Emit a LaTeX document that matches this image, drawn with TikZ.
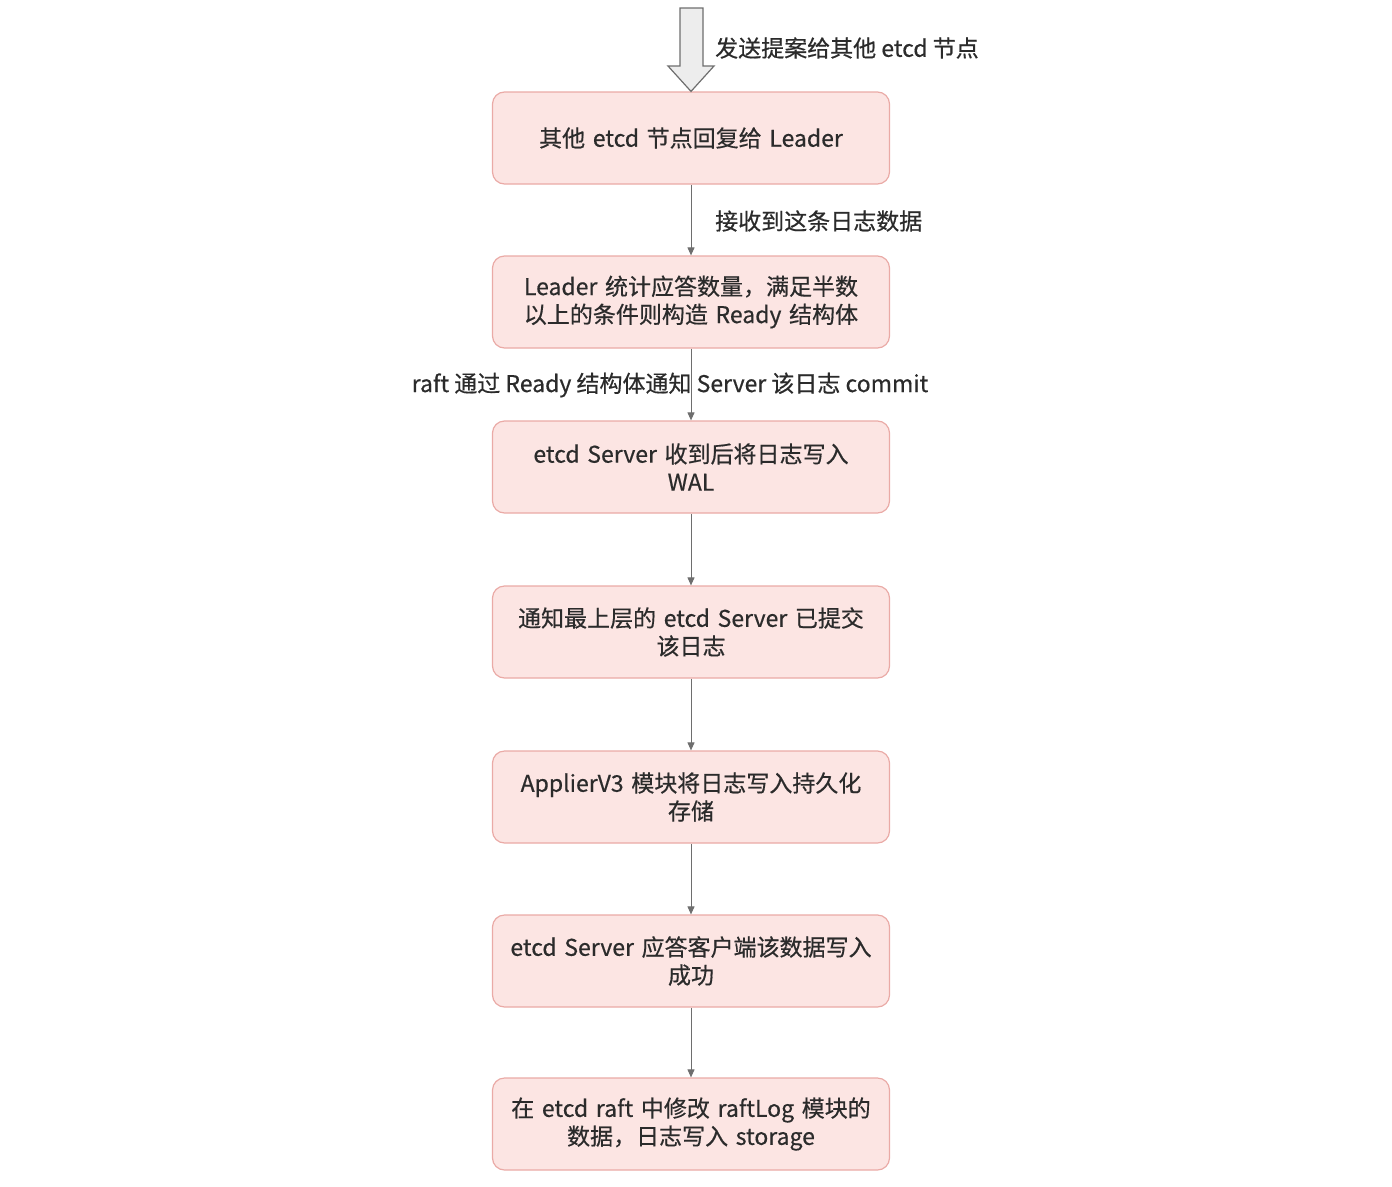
\documentclass[tikz,border=0pt]{standalone}
\usepackage{fontspec}
\setmainfont{Noto Sans CJK SC}
\newfontfamily\medfont{Noto Sans CJK SC}[FakeBold=0.5]
\usetikzlibrary{arrows.meta}
\definecolor{boxfill}{HTML}{FCE5E3}
\definecolor{boxdraw}{HTML}{EAAAA6}
\definecolor{txt}{HTML}{2B2B2B}
\definecolor{lnk}{HTML}{6E6E6E}
\begin{document}
\begin{tikzpicture}[x=1pt,y=-1pt,
  stepbox/.style={draw=boxdraw,fill=boxfill,line width=1.2pt,rounded corners=12pt,
    minimum width=397pt,minimum height=92pt,text width=380pt,align=center,
    font=\medfont\fontsize{23}{28}\selectfont,text=txt,inner sep=0pt},
  link/.style={draw=lnk,line width=1pt,-{Triangle[length=8pt,width=7pt]}},
  lbl/.style={font=\medfont\fontsize{23}{28}\selectfont,text=txt,inner sep=0pt}]
\useasboundingbox (0,0) rectangle (1392,1186);
\node[stepbox] (b1) at (691,138) {其他 etcd 节点回复给 Leader};
\node[stepbox] (b2) at (691,302) {Leader 统计应答数量，满足半数\\以上的条件则构造 Ready 结构体};
\node[stepbox] (b3) at (691,467) {etcd Server 收到后将日志写入\\WAL};
\node[stepbox] (b4) at (691,632) {通知最上层的 etcd Server 已提交\\该日志};
\node[stepbox] (b5) at (691,797) {ApplierV3 模块将日志写入持久化\\存储};
\node[stepbox] (b6) at (691,961) {etcd Server 应答客户端该数据写入\\成功};
\node[stepbox] (b7) at (691,1124) {在 etcd raft 中修改 raftLog 模块的\\数据，日志写入 storage};
% top hollow arrow
\draw[draw=lnk,fill=black!7,line width=1.2pt,line join=miter]
  (680,8) -- (703,8) -- (703,66) -- (714,66) -- (b1.north) -- (668,66) -- (680,66) -- cycle;
\node[lbl,anchor=west] (l0) at (715,48) {发送提案给其他 etcd 节点};
\draw[link] (b1) -- (b2);
\draw[link] (b2) -- (b3);
\draw[link] (b3) -- (b4);
\draw[link] (b4) -- (b5);
\draw[link] (b5) -- (b6);
\draw[link] (b6) -- (b7);
\node[lbl,anchor=west] (l1) at (715,221) {接收到这条日志数据};
\node[lbl] (l2) at (670,385) {raft 通过 Ready 结构体通知 Server 该日志 commit};
\end{tikzpicture}
\end{document}
